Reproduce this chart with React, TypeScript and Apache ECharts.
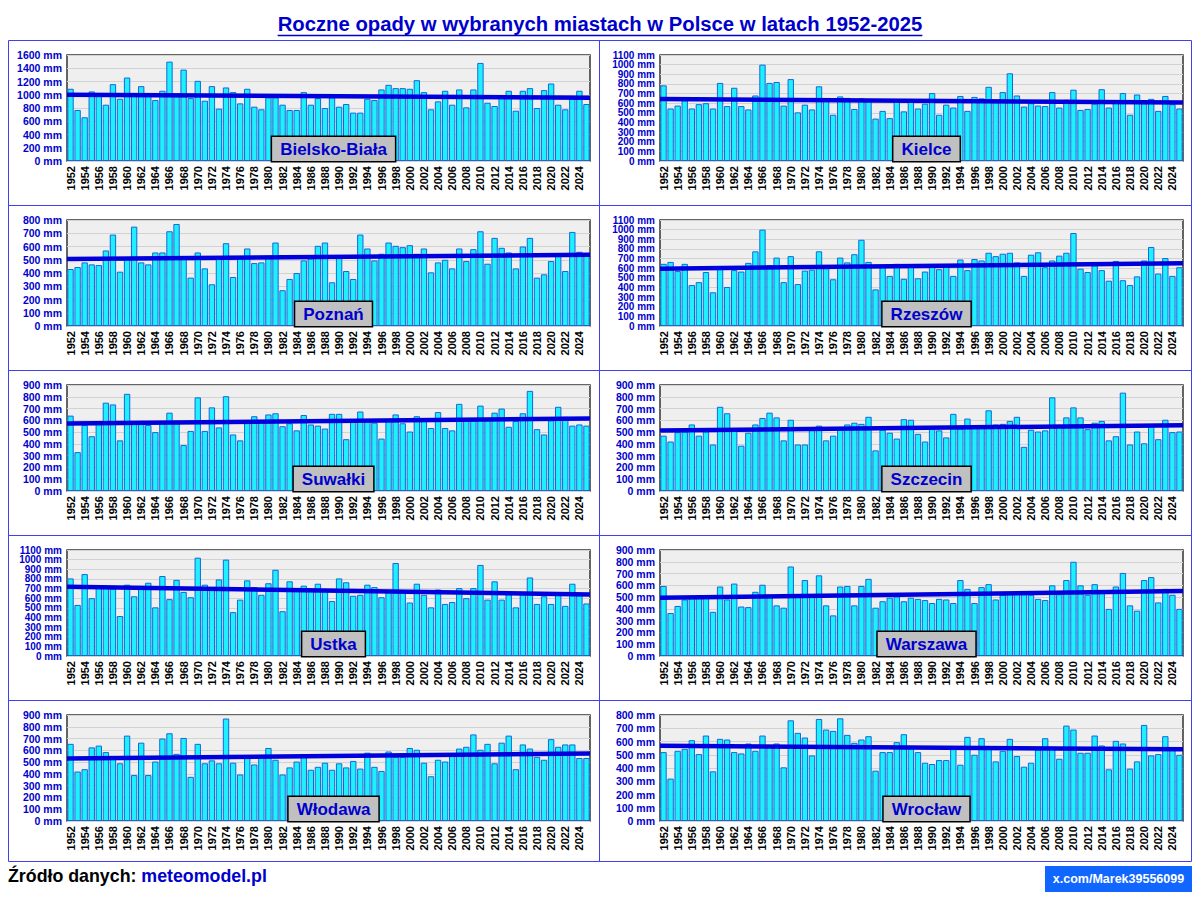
import React, { useEffect, useRef } from "react";
import * as echarts from "echarts";

const YEARS: string[] = Array.from({ length: 74 }, (_, i) => String(1952 + i));

const CITIES = ["Bielsko-Biała", "Kielce", "Poznań", "Rzeszów", "Suwałki", "Szczecin", "Ustka", "Warszawa", "Włodawa", "Wrocław"];

const bielsko = [
  1090, 770, 660, 1050, 990, 850, 1160, 940, 1260, 990,
  1130, 980, 920, 1060, 1500, 980, 1380, 950, 1210, 910,
  1130, 790, 1110, 1040, 870, 1090, 820, 780, 960, 960,
  850, 770, 770, 1040, 850, 950, 800, 960, 820, 860,
  730, 730, 940, 920, 1080, 1150, 1100, 1100, 1090, 1220,
  1040, 780, 900, 1060, 850, 1080, 810, 1080, 1480, 880,
  830, 960, 1060, 760, 1060, 1100, 800, 1070, 1170, 850,
  780, 960, 1060, 860,
];
const kielce = [
  785, 545, 575, 630, 545, 590, 600, 545, 810, 570,
  760, 570, 535, 680, 1000, 810, 820, 575, 850, 505,
  585, 535, 775, 630, 480, 670, 655, 540, 650, 620,
  440, 520, 445, 620, 515, 620, 545, 595, 705, 480,
  585, 555, 675, 520, 665, 650, 770, 610, 715, 910,
  680, 565, 600, 575, 570, 715, 555, 635, 740, 530,
  540, 595, 745, 555, 605, 705, 480, 690, 600, 645,
  520, 675, 590, 545,
];
const poznan = [
  430, 445, 480, 465, 460, 570, 690, 410, 510, 750,
  480, 465, 555, 555, 715, 770, 525, 365, 555, 435,
  315, 520, 625, 370, 515, 585, 475, 480, 530, 630,
  270, 355, 400, 495, 510, 605, 630, 330, 520, 415,
  355, 690, 585, 495, 545, 630, 605, 595, 610, 545,
  585, 405, 480, 500, 435, 585, 490, 580, 715, 470,
  665, 590, 555, 435, 600, 665, 365, 390, 490, 530,
  415, 710, 560, 540,
];
const rzeszow = [
  645, 665, 570, 645, 425, 455, 560, 350, 600, 405,
  580, 565, 655, 775, 1000, 630, 710, 455, 725, 435,
  575, 585, 775, 600, 485, 710, 660, 745, 895, 665,
  380, 610, 520, 645, 490, 620, 495, 565, 630, 590,
  630, 520, 690, 580, 695, 680, 760, 725, 750, 760,
  660, 520, 740, 765, 610, 680, 730, 760, 965, 595,
  560, 630, 580, 470, 675, 475, 425, 515, 680, 820,
  545, 705, 520, 610,
];
const suwalki = [
  640, 330, 560, 465, 570, 750, 735, 430, 825, 580,
  595, 560, 500, 575, 665, 575, 390, 510, 795, 510,
  710, 540, 805, 480, 430, 580, 635, 590, 650, 660,
  550, 575, 515, 645, 565, 555, 530, 655, 655, 440,
  590, 675, 610, 580, 445, 610, 650, 575, 505, 635,
  600, 535, 670, 535, 515, 740, 600, 600, 725, 600,
  665, 700, 545, 595, 660, 850, 525, 480, 600, 715,
  630, 555, 565, 555,
];
const szczecin = [
  470, 420, 500, 505, 565, 470, 505, 395, 715, 660,
  510, 385, 495, 565, 620, 665, 625, 430, 605, 395,
  395, 525, 555, 430, 470, 530, 565, 580, 570, 630,
  345, 520, 495, 445, 610, 605, 485, 420, 530, 515,
  455, 655, 530, 615, 540, 540, 685, 565, 570, 595,
  630, 375, 520, 505, 515, 795, 560, 625, 710, 625,
  525, 580, 595, 430, 465, 835, 395, 505, 405, 555,
  440, 605, 500, 505,
];
const ustka = [
  805, 530, 850, 600, 710, 705, 700, 415, 740, 620,
  700, 760, 505, 830, 590, 790, 665, 610, 1020, 740,
  690, 795, 1000, 455, 585, 785, 715, 635, 755, 895,
  465, 775, 700, 730, 690, 750, 680, 570, 805, 765,
  625, 635, 740, 715, 610, 675, 965, 665, 555, 750,
  635, 505, 690, 540, 560, 705, 600, 705, 945, 585,
  775, 585, 640, 505, 640, 815, 540, 620, 540, 640,
  520, 750, 640, 545,
];
const warszawa = [
  595, 365, 425, 480, 500, 515, 500, 375, 590, 480,
  615, 420, 415, 545, 605, 500, 430, 410, 760, 515,
  645, 515, 685, 430, 345, 590, 595, 430, 595, 655,
  410, 465, 495, 505, 465, 495, 485, 475, 450, 485,
  480, 450, 645, 570, 450, 585, 610, 480, 520, 530,
  535, 525, 520, 485, 475, 600, 525, 645, 800, 600,
  520, 610, 535, 400, 590, 705, 430, 385, 645, 670,
  455, 570, 520, 400,
];
const wlodawa = [
  655, 420, 440, 625, 640, 585, 540, 490, 725, 390,
  665, 390, 505, 700, 745, 570, 705, 375, 655, 490,
  515, 490, 870, 495, 395, 540, 480, 540, 620, 520,
  395, 455, 505, 545, 435, 460, 495, 435, 490, 455,
  510, 445, 580, 460, 425, 590, 545, 545, 620, 605,
  495, 380, 520, 505, 560, 615, 630, 735, 605, 655,
  490, 665, 725, 440, 650, 615, 545, 520, 695, 630,
  650, 650, 535, 535,
];
const wroclaw = [
  520, 320, 530, 545, 610, 505, 645, 375, 620, 615,
  520, 510, 585, 530, 645, 570, 585, 405, 760, 665,
  630, 495, 770, 690, 680, 775, 650, 590, 615, 640,
  380, 520, 520, 595, 655, 550, 520, 440, 430, 460,
  460, 545, 425, 635, 500, 625, 550, 450, 530, 620,
  490, 410, 440, 540, 625, 560, 470, 720, 690, 515,
  515, 645, 570, 390, 605, 585, 395, 450, 725, 495,
  505, 640, 545, 500,
];

const SERIES_DATA = [bielsko, kielce, poznan, rzeszow, suwalki, szczecin, ustka, warszawa, wlodawa, wroclaw];
const Y_MAX = [1600, 1100, 800, 1100, 900, 900, 1100, 900, 900, 800];
const Y_STEP = [200, 100, 100, 100, 100, 100, 100, 100, 100, 100];

const TITLE = "Roczne opady w wybranych miastach w Polsce w latach 1952-2025";
const SOURCE_LABEL = "Źródło danych: ";
const SOURCE_LINK = "meteomodel.pl";
const BADGE = "x.com/Marek39556099";

const FONT = '"Liberation Sans", Arial, sans-serif';

function trend(values: number[]) {
  const n = values.length;
  let sx = 0, sy = 0, sxx = 0, sxy = 0;
  for (let i = 0; i < n; i++) {
    sx += i; sy += values[i]; sxx += i * i; sxy += i * values[i];
  }
  const b = (n * sxy - sx * sy) / (n * sxx - sx * sx);
  const a = (sy - b * sx) / n;
  return [[-0.5, a - 0.5 * b], [n - 0.5, a + (n - 0.5) * b]];
}

function measure(text: string, font: string) {
  const c = document.createElement("canvas");
  const ctx = c.getContext("2d");
  if (!ctx) return text.length * 10;
  ctx.font = font;
  return ctx.measureText(text).width;
}

export default function App() {
  const ref = useRef<HTMLDivElement>(null);
  useEffect(() => {
    document.body.style.margin = "0";
    if (!ref.current) return;
    const chart = echarts.init(ref.current, undefined, { renderer: "svg" });

    const COL_LEFT = [67, 660];
    const PLOT_W = 523;
    const ROW_TOP = 55;
    const PITCH = 165;
    const PLOT_H = 106;

    const grids: any[] = [];
    const xAxes: any[] = [];
    const yAxes: any[] = [];
    const series: any[] = [];
    const graphics: any[] = [];

    const labelStyle = (dense: boolean) => ({
      formatter: (v: number) => `${v} mm`, color: "#0000cc", fontWeight: "bold",
      fontSize: dense ? 10 : 10.5,
      fontFamily: FONT, margin: 5, hideOverlap: false, showMinLabel: true, showMaxLabel: true,
    });

    SERIES_DATA.forEach((vals, i) => {
      const col = i % 2;
      const row = Math.floor(i / 2);
      const left = COL_LEFT[col];
      const top = ROW_TOP + row * PITCH;
      const ticks = Y_MAX[i] / Y_STEP[i];
      const dense = ticks > 10;
      grids.push({
        left, top, width: PLOT_W, height: PLOT_H,
        show: true, backgroundColor: "#efefef", borderColor: "#333333", borderWidth: 1.5,
      });
      xAxes.push({
        type: "category", gridIndex: i, data: YEARS,
        axisLine: { show: false }, axisTick: { show: false },
        axisLabel: {
          interval: 1, rotate: 90, fontSize: 11, fontWeight: "bold", color: "#000000",
          fontFamily: FONT, margin: 5, hideOverlap: false,
        },
      });
      xAxes.push({ type: "value", gridIndex: i, min: -0.5, max: 73.5, show: false });

      const tickValues: number[] = [];
      for (let v = 0; v <= Y_MAX[i]; v += Y_STEP[i]) tickValues.push(v);
      const mainIdx = yAxes.length;
      if (dense) {
        // two overlaid left axes with identical scale, each labelling every other tick
        yAxes.push({
          type: "value", gridIndex: i, position: "left", offset: 0,
          min: 0, max: Y_MAX[i], interval: Y_STEP[i],
          axisLine: { show: false }, axisTick: { show: false },
          axisLabel: { ...labelStyle(true), customValues: tickValues.filter((_, k) => k % 2 === 0) },
          splitLine: { lineStyle: { color: "#d2d2d2", width: 1 } },
        });
        yAxes.push({
          type: "value", gridIndex: i, position: "left", offset: 0,
          min: 0, max: Y_MAX[i], interval: Y_STEP[i],
          axisLine: { show: false }, axisTick: { show: false },
          axisLabel: { ...labelStyle(true), customValues: tickValues.filter((_, k) => k % 2 === 1) },
          splitLine: { show: false },
        });
      } else {
        yAxes.push({
          type: "value", gridIndex: i, position: "left",
          min: 0, max: Y_MAX[i], interval: Y_STEP[i],
          axisLine: { show: false }, axisTick: { show: false },
          axisLabel: labelStyle(false),
          splitLine: { lineStyle: { color: "#d2d2d2", width: 1 } },
        });
      }
      series.push({
        type: "bar", name: CITIES[i], xAxisIndex: 2 * i, yAxisIndex: mainIdx, data: vals,
        barCategoryGap: "10%",
        itemStyle: { color: "#1ef0ff", borderColor: "#1468d8", borderWidth: 1 },
      });
      series.push({
        type: "line", xAxisIndex: 2 * i + 1, yAxisIndex: mainIdx, data: trend(vals),
        symbol: "none", lineStyle: { color: "#0000dd", width: 4.5 }, z: 5,
      });
      graphics.push({
        type: "text", x: left + PLOT_W / 2 + 5, y: top + PLOT_H, z: 100,
        style: {
          text: CITIES[i], fill: "#0000cc", font: `bold 17px ${FONT}`,
          align: "center", verticalAlign: "bottom", textAlign: "center", textVerticalAlign: "bottom",
          backgroundColor: "#c0c0c0", borderColor: "#000000", borderWidth: 1.5,
          padding: [4, 8, 3, 8],
        },
      });
    });

    // frame
    const frameColor = "#4040ee";
    graphics.push({
      type: "rect", z: 50, shape: { x: 8.5, y: 40.5, width: 1183, height: 821 },
      style: { fill: "none", stroke: frameColor, lineWidth: 1 },
    });
    graphics.push({
      type: "line", z: 50, shape: { x1: 599.5, y1: 40.5, x2: 599.5, y2: 861.5 },
      style: { stroke: frameColor, lineWidth: 1 },
    });
    [205.5, 370.5, 535.5, 700.5].forEach((y) => {
      graphics.push({
        type: "line", z: 50, shape: { x1: 8.5, y1: y, x2: 1191.5, y2: y },
        style: { stroke: frameColor, lineWidth: 1 },
      });
    });

    // title
    const titleFont = `bold 20.3px ${FONT}`;
    const tw = measure(TITLE, titleFont);
    graphics.push({
      type: "text", x: 600, y: 24, z: 60,
      style: {
        text: TITLE, fill: "#0000cc", font: titleFont,
        align: "center", verticalAlign: "middle", textAlign: "center", textVerticalAlign: "middle",
      },
    });
    graphics.push({
      type: "line", z: 60, shape: { x1: 600 - tw / 2, y1: 35.5, x2: 600 + tw / 2, y2: 35.5 },
      style: { stroke: "#0000cc", lineWidth: 1.5 },
    });

    // footer
    const footFont = `bold 17.8px ${FONT}`;
    const sw = measure(SOURCE_LABEL, footFont);
    graphics.push({
      type: "text", x: 8, y: 876, z: 60,
      style: {
        text: SOURCE_LABEL, fill: "#000000", font: footFont,
        align: "left", verticalAlign: "middle", textAlign: "left", textVerticalAlign: "middle",
      },
    });
    graphics.push({
      type: "text", x: 8 + sw, y: 876, z: 60,
      style: {
        text: SOURCE_LINK, fill: "#0000cc", font: footFont,
        align: "left", verticalAlign: "middle", textAlign: "left", textVerticalAlign: "middle",
      },
    });
    graphics.push({
      type: "rect", z: 60, shape: { x: 1045, y: 866, width: 147, height: 26 },
      style: { fill: "#1166ff" },
    });
    graphics.push({
      type: "text", x: 1118.5, y: 879, z: 61,
      style: {
        text: BADGE, fill: "#ffffff", font: `bold 12.5px ${FONT}`,
        align: "center", verticalAlign: "middle", textAlign: "center", textVerticalAlign: "middle",
      },
    });

    chart.setOption({
      animation: false,
      backgroundColor: "#ffffff",
      grid: grids,
      xAxis: xAxes,
      yAxis: yAxes,
      series,
      graphic: { elements: graphics },
    });
    return () => chart.dispose();
  }, []);
  return <div ref={ref} style={{ width: 1200, height: 900 }} />;
}
